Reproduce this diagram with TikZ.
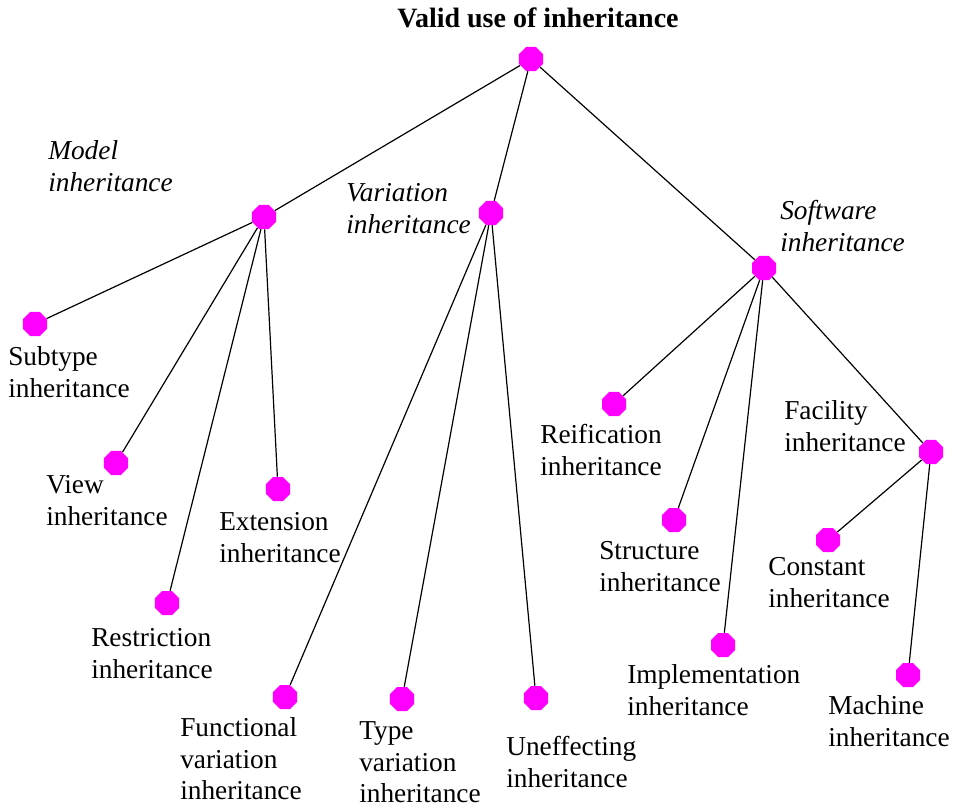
\documentclass[tikz,border=0pt]{standalone}
\usepackage{fontspec}
\setmainfont{Liberation Serif}
\usetikzlibrary{shapes.geometric}
\definecolor{dotpink}{RGB}{255,0,255}
\begin{document}
\begin{tikzpicture}[x=0.75pt,y=-0.75pt,
  dot/.style={regular polygon,regular polygon sides=8,fill=dotpink,draw=none,
    minimum size=19.5pt,inner sep=0pt},
  edge/.style={draw=black,line width=0.9pt},
  lbl/.style={font=\fontsize{20.5}{23.8}\selectfont,align=left,anchor=north west,
    inner sep=0pt,yshift=16.66pt},
  cat/.style={lbl,font=\fontsize{20.5}{23.8}\selectfont\itshape}]
\useasboundingbox (0,0) rectangle (955,807);
% tree nodes
\node[dot] (root) at (531,59) {};
\node[dot] (model) at (264,217) {};
\node[dot] (var) at (491,213) {};
\node[dot] (soft) at (764,268) {};
\node[dot] (sub) at (35,324) {};
\node[dot] (view) at (116,463) {};
\node[dot] (restr) at (167,603) {};
\node[dot] (ext) at (278,489) {};
\node[dot] (func) at (285,697) {};
\node[dot] (type) at (402,699) {};
\node[dot] (uneff) at (536,698) {};
\node[dot] (reif) at (614,404) {};
\node[dot] (struct) at (674,520) {};
\node[dot] (impl) at (723,645) {};
\node[dot] (fac) at (931,452) {};
\node[dot] (const) at (828,540) {};
\node[dot] (mach) at (908,675) {};
% connectors
\foreach \a/\b in {root/model,root/var,root/soft,
  model/sub,model/view,model/restr,model/ext,
  var/func,var/type,var/uneff,
  soft/reif,soft/struct,soft/impl,soft/fac,
  fac/const,fac/mach}
  \draw[edge] (\a) -- (\b);
% labels
\node[font=\fontsize{21}{24}\selectfont\bfseries,anchor=base,inner sep=0pt] (title) at (538,27) {Valid use of inheritance};
\node[cat] (lmodel) at (48,159) {\strut Model\\inheritance};
\node[cat] (lvar) at (346,201) {\strut Variation\\inheritance};
\node[cat] (lsoft) at (780,219) {\strut Software\\inheritance};
\node[lbl] (lsub) at (8,365) {\strut Subtype\\inheritance};
\node[lbl] (lview) at (46,493) {\strut View\\inheritance};
\node[lbl] (lrestr) at (91,646) {\strut Restriction\\inheritance};
\node[lbl] (lext) at (219,530) {\strut Extension\\inheritance};
\node[lbl] (lfunc) at (180,736) {\strut Functional\\variation\\inheritance};
\node[lbl] (ltype) at (359,739) {\strut Type\\variation\\inheritance};
\node[lbl] (luneff) at (506,755) {\strut Uneffecting\\inheritance};
\node[lbl] (lreif) at (540,443) {\strut Reification\\inheritance};
\node[lbl] (lstruct) at (599,559) {\strut Structure\\inheritance};
\node[lbl] (limpl) at (627,683) {\strut Implementation\\inheritance};
\node[lbl] (lfac) at (784,419) {\strut Facility\\inheritance};
\node[lbl] (lconst) at (768,575) {\strut Constant\\inheritance};
\node[lbl] (lmach) at (828,714) {\strut Machine\\inheritance};
\end{tikzpicture}
\end{document}
